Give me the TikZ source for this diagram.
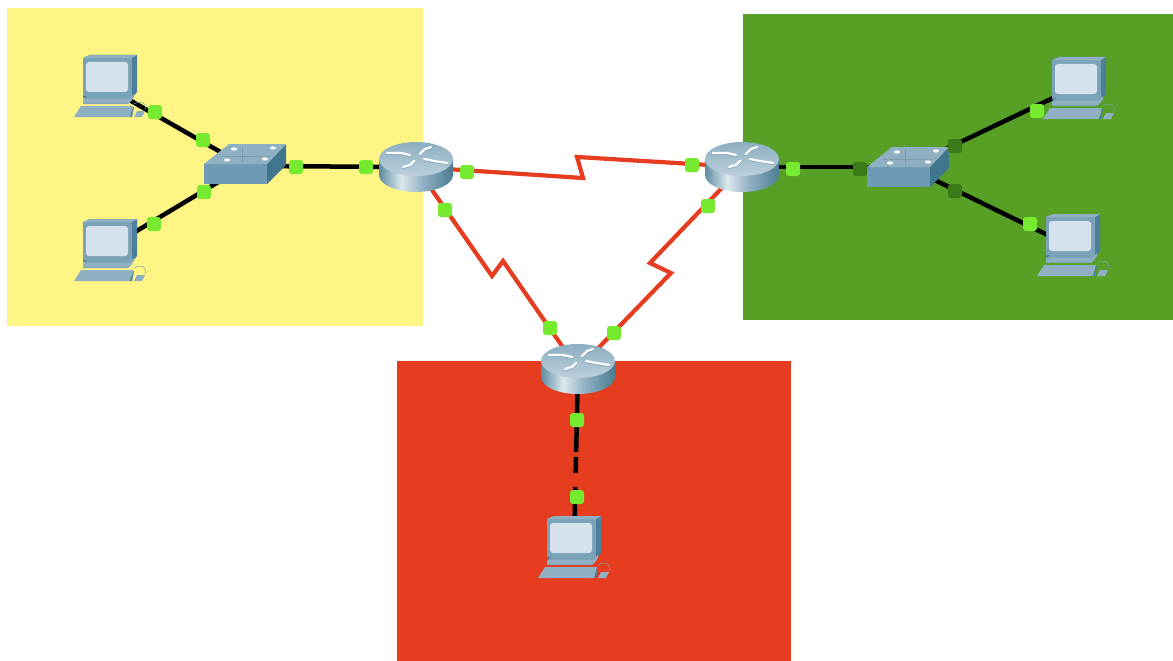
\documentclass[tikz,border=0pt]{standalone}
\definecolor{zoneyellow}{HTML}{FFF585}
\definecolor{zonegreen}{HTML}{57A025}
\definecolor{zonered}{HTML}{E63D20}
\definecolor{serialred}{HTML}{E63D20}
\definecolor{portgreen}{HTML}{76EA2E}
\definecolor{portdark}{HTML}{3A7A18}
\definecolor{pcdark}{HTML}{4B7F9B}
\definecolor{pcmid}{HTML}{7BA3B8}
\definecolor{pclight}{HTML}{8FB0C2}
\definecolor{pcscreen}{HTML}{D5E1EC}
\definecolor{routerdark}{HTML}{5E8CA3}
\definecolor{routerend}{HTML}{4C7C92}
\definecolor{routerpale}{HTML}{DCE7EC}
\definecolor{swfront}{HTML}{6E9AB3}
\definecolor{swside}{HTML}{41768F}
\definecolor{swtop}{HTML}{8FB0C2}
\pgfdeclarehorizontalshading{routerbody}{100bp}{color(0bp)=(routerdark); color(25bp)=(routerdark); color(40bp)=(routerpale); color(55bp)=(pclight); color(75bp)=(routerend); color(100bp)=(routerend)}
\begin{document}
\begin{tikzpicture}[x=1pt,y=-1pt,
  blackline/.style={line width=4.5pt,black},
  serial/.style={line width=4.2pt,draw=serialred,line join=miter},
  portup/.style={fill=portgreen,draw=portgreen,line width=1pt,rounded corners=2.5pt,minimum size=13pt,inner sep=0pt,outer sep=0pt},
  portdown/.style={portup,fill=portdark,draw=portdark},
  anchorpt/.style={inner sep=0pt,minimum size=0pt,outer sep=0pt},
  pc/.pic={
    % monitor
    \fill[pcdark] (-22,-28) -- (-15,-31) -- (32,-31) -- (32,6) -- (27,12) -- (-22,12) -- cycle;
    \fill[pcmid] (-22,-28) -- (27,-28) -- (27,10) -- (-22,10) -- cycle;
    \fill[pclight] (-22,-28) -- (-15,-31) -- (32,-31) -- (27,-28) -- cycle;
    \fill[pcscreen,rounded corners=3pt] (-19,-24) rectangle (23,6);
    % base
    \fill[pcmid] (-18,10) -- (27,10) -- (27,14) -- (23,18) -- (-22,18) -- (-22,14) -- cycle;
    \fill[pclight] (-22,13) -- (24,13) -- (29,8) -- (29,11) -- (24,17) -- (-22,17) -- cycle;
    % keyboard
    \fill[pclight] (-31,31) -- (-24,20) -- (28,20) -- (26,28) -- (25,31) -- cycle;
    \fill[pcdark] (25,31) -- (28,21) -- (29,21) -- (27,31) -- cycle;
    % mouse
    \fill[pclight] (29,31) -- (32,25) -- (40,25) -- (37,31) -- cycle;
    \draw[pcmid,line width=.5pt] (29,18) .. controls (36,14) and (42,16) .. (40,24);
  },
  routermark/.style={line width=2.2pt,line cap=round},
  router/.pic={
    \shade[shading=routerbody]
      (-37,-8) -- (-37,8) arc[start angle=180,end angle=0,x radius=37,y radius=17] -- (37,-8) -- cycle;
    \shade[top color=pclight!85!pcmid,bottom color=pclight!60!white] (0,-8) ellipse[x radius=37,y radius=17];
    \begin{scope}[routermark,pcdark!70!white,yshift=-.8pt]
      \draw (-29,-14) -- (-15,-14) -- (-6,-12);
      \draw (4,-13) -- (9,-18) -- (15,-20);
      \draw (-13,0) -- (-6,-2) -- (-2,-6);
      \draw (8,-8) -- (18,-6) -- (31,-4);
    \end{scope}
    \begin{scope}[routermark,white]
      \draw (-29,-14) -- (-15,-14) -- (-6,-12);
      \draw (4,-13) -- (9,-18) -- (15,-20);
      \draw (-13,0) -- (-6,-2) -- (-2,-6);
      \draw (8,-8) -- (18,-6) -- (31,-4);
    \end{scope}
  },
  switchbox/.pic={
    \fill[swfront] (-41,0) rectangle (22,20);
    \fill[swside] (22,0) -- (41,-20) -- (41,1) -- (22,20) -- cycle;
    \fill[swtop] (-41,0) -- (-16,-20) -- (41,-20) -- (22,0) -- cycle;
    \draw[swtop!88!black,line width=.5pt] (-25,-8) -- (25,-8) (-3,-18) -- (-3,-2);
    \fill[white] (-11,-15) circle[x radius=3,y radius=1.6] (28,-16) circle[x radius=3,y radius=1.6]
      (-18,-4) circle[x radius=3,y radius=1.6] (20,-5) circle[x radius=3,y radius=1.6];
  }]
\useasboundingbox (0,0) rectangle (1173,661);
\fill[white] (0,0) rectangle (1173,661);
\fill[zoneyellow] (7,8) rectangle (423,326);
\fill[zonegreen] (743,14) rectangle (1173,320);
\fill[zonered] (397,361) rectangle (791,661);
% device anchors
\node[anchorpt] (pcA) at (105,86) {};
\node[anchorpt] (pcB) at (105,250) {};
\node[anchorpt] (pcC) at (569,547) {};
\node[anchorpt] (pcD) at (1074,88) {};
\node[anchorpt] (pcE) at (1068,245) {};
\node[anchorpt] (swA) at (245,166) {};
\node[anchorpt] (swB) at (908,167) {};
\node[anchorpt] (rA) at (416,167) {};
\node[anchorpt] (rB) at (742,167) {};
\node[anchorpt] (rC) at (578,369) {};
% connectors
\draw[blackline] (pcA) -- (swA);
\draw[blackline] (pcB) -- (swA);
\draw[blackline] (swA) -- (rA);
\draw[blackline] (rB) -- (swB);
\draw[blackline] (swB) -- (pcD);
\draw[blackline] (swB) -- (pcE);
\draw[blackline,dash pattern=on 83pt off 5pt on 16pt off 14pt on 100pt] (rC) -- ([xshift=5pt]pcC.center);
\coordinate (ab1) at (583,178);
\coordinate (ab2) at (577,157);
\coordinate (ac1) at (492,276);
\coordinate (ac2) at (503,261);
\coordinate (bc1) at (650,263);
\coordinate (bc2) at (671,273);
\draw[serial] (rA) -- (ab1) -- (ab2) -- (rB);
\draw[serial] (rA) -- (ac1) -- (ac2) -- (rC);
\draw[serial] (rB) -- (bc1) -- (bc2) -- (rC);
% devices
\pic at (pcA) {pc};
\pic at (pcB) {pc};
\pic at (pcC) {pc};
\pic at (pcD) {pc};
\pic at (pcE) {pc};
\pic at ([yshift=2pt]swA.center) {switchbox};
\pic at (swB) {switchbox};
\pic at (rA) {router};
\pic at (rB) {router};
\pic at (rC) {router};
% ports
\node[portup] (p1) at (155,112) {};
\node[portup] (p2) at (203,140) {};
\node[portup] (p3) at (154,224) {};
\node[portup] (p4) at (204,192) {};
\node[portup] (p5) at (296,167) {};
\node[portup] (p6) at (366,167) {};
\node[portup] (p7) at (467,172) {};
\node[portup] (p8) at (692,165) {};
\node[portup] (p9) at (445,210) {};
\node[portup] (p10) at (550,328) {};
\node[portup] (p11) at (708,206) {};
\node[portup] (p12) at (614,333) {};
\node[portup] (p13) at (577,420) {};
\node[portup] (p14) at (577,497) {};
\node[portup] (p15) at (793,169) {};
\node[portdown] (p16) at (860,169) {};
\node[portdown] (p17) at (955,146) {};
\node[portup] (p18) at (1037,111) {};
\node[portdown] (p19) at (955,191) {};
\node[portup] (p20) at (1030,224) {};
\end{tikzpicture}
\end{document}
